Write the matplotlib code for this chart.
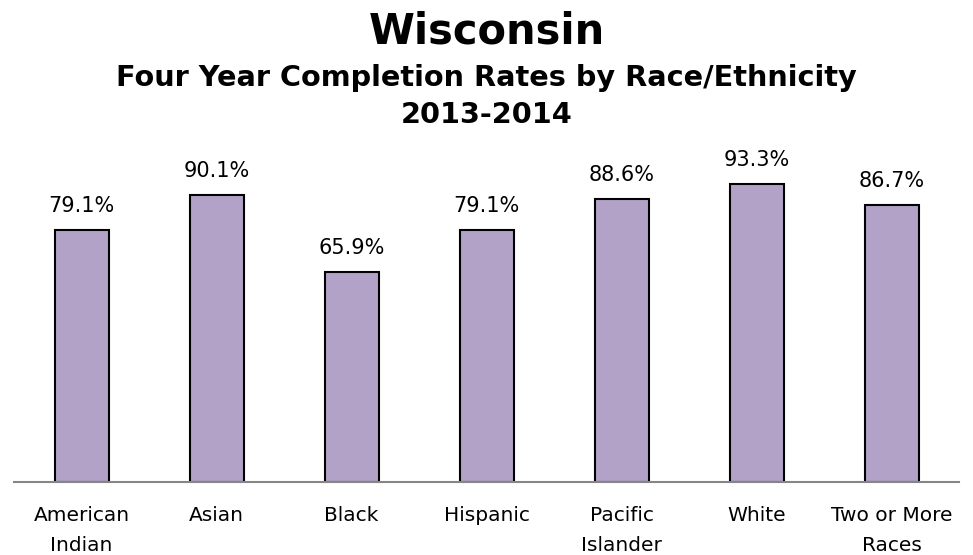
import matplotlib
matplotlib.use("Agg")
import matplotlib.pyplot as plt

categories = ["American\nIndian", "Asian", "Black", "Hispanic", "Pacific\nIslander", "White", "Two or More\nRaces"]
values = [79.1, 90.1, 65.9, 79.1, 88.6, 93.3, 86.7]
labels = ["79.1%", "90.1%", "65.9%", "79.1%", "88.6%", "93.3%", "86.7%"]

W, H = 973, 555
fig = plt.figure(figsize=(W / 100, H / 100), dpi=100)
plt.rcParams['font.family'] = ['DejaVu Sans']

ax_left, ax_right, ax_base, ax_top = 14, 959, 482, 163
ax = fig.add_axes([ax_left / W, (H - ax_base) / H, (ax_right - ax_left) / W, (ax_base - ax_top) / H])

x = list(range(len(categories)))
ax.bar(x, values, width=0.4, color="#B3A2C7", edgecolor="black", linewidth=1.5, zorder=2)
ax.set_xlim(-0.5, len(categories) - 0.5)
ax.set_ylim(0, 100)

for xi, v, lab in zip(x, values, labels):
    ax.annotate(lab, (xi, v), xytext=(0, 13), textcoords="offset points",
                ha="center", va="baseline", fontsize=15, color="black")

ax.set_xticks(x)
ax.set_xticklabels(categories, fontsize=14.5, linespacing=1.75)
ax.tick_params(axis="x", length=0, pad=17)
ax.set_yticks([])
for s in ["left", "right", "top"]:
    ax.spines[s].set_visible(False)
ax.spines["bottom"].set_color("#868686")
ax.spines["bottom"].set_linewidth(1.5)

fig.text(0.5, 1 - 44 / H, "Wisconsin", ha="center", va="baseline", fontsize=30, fontweight="bold")
fig.text(0.5, 1 - 86 / H, "Four Year Completion Rates by Race/Ethnicity", ha="center", va="baseline",
         fontsize=20.7, fontweight="bold")
fig.text(0.5, 1 - 123 / H, "2013-2014", ha="center", va="baseline", fontsize=20.7, fontweight="bold")

fig.savefig("out.png", dpi=100)
